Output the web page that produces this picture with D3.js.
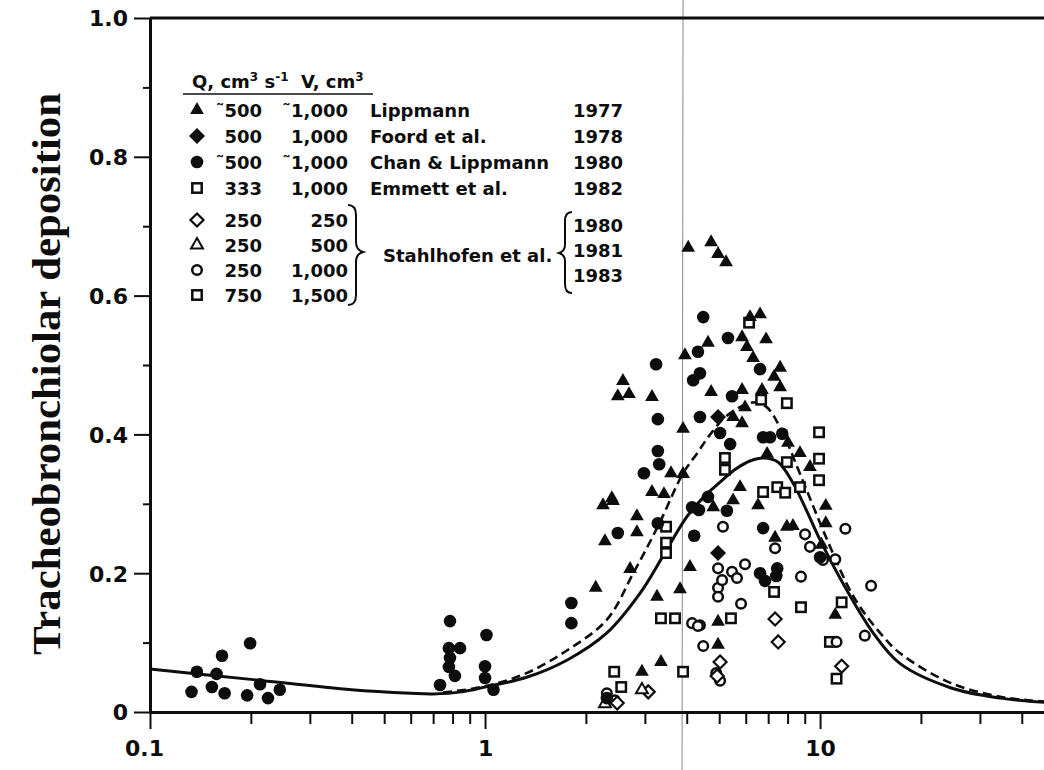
<!DOCTYPE html>
<html>
<head>
<meta charset="utf-8">
<script src="https://cdn.jsdelivr.net/npm/d3@7"></script>
<style>
  html, body { margin: 0; padding: 0; background: #fff; }
  svg { display: block; }
</style>
</head>
<body>
<svg id="chart" width="1044" height="770"></svg>
<script>
// ---------------- DATA ----------------
const xDomain = [0.1, 46.6];
const yDomain = [0, 1];
const xMajorTicks = [0.1, 1, 10];
const xTickLabels = ["0.1", "1", "10"];
const xMinorTicks = [0.2,0.3,0.4,0.5,0.6,0.7,0.8,0.9,2,3,4,5,6,7,8,9,20,30,40];
const yMajorTicks = [0, 0.2, 0.4, 0.6, 0.8, 1.0];
const yTickLabels = ["0", "0.2", "0.4", "0.6", "0.8", "1.0"];
const yMinorTicks = [0.1, 0.3, 0.5, 0.7, 0.9];
const yTitle = "Tracheobronchiolar deposition";
const artifactLineX = 3.9;

// solid model curve
const solidCurve = [
  [0.1,0.062],[0.2,0.047],[0.4,0.032],[0.6,0.027],[0.7,0.026],[0.85,0.029],[1.0,0.036],
  [1.33,0.05],[1.76,0.075],[2.31,0.114],[2.9,0.171],[3.4,0.225],[4.0,0.281],
  [4.5,0.31],[5.0,0.33],[5.6,0.35],[6.2,0.362],[6.8,0.366],[7.5,0.36],[8.3,0.33],
  [9.1,0.291],[10,0.248],[12,0.176],[14.4,0.114],[17.3,0.07],[24.5,0.035],[34.5,0.02],[46.6,0.014]
];
// dashed model curve
const dashedCurve = [
  [0.75,0.028],[1.0,0.037],[1.33,0.056],[1.76,0.089],[2.31,0.133],[2.77,0.2],[3.3,0.27],
  [3.9,0.344],[4.3,0.373],[4.7,0.40],[5.3,0.428],[6.3,0.446],[6.9,0.44],[7.6,0.41],[8.7,0.344],
  [10.5,0.248],[12.6,0.166],[15.1,0.114],[17.3,0.085],[24.5,0.042],[34.5,0.022],[46.6,0.015]
];

// Lippmann 1977 (filled triangles)
const lippmann = [
  [4.04,0.669],[4.73,0.677],[4.96,0.660],[5.24,0.648],[4.63,0.532],[3.95,0.514],[2.58,0.477],
  [2.49,0.455],[2.69,0.458],[3.15,0.454],[4.73,0.461],[3.90,0.408],[3.59,0.344],[3.90,0.343],
  [3.15,0.317],[3.42,0.314],[2.39,0.308],[6.18,0.569],[6.62,0.573],[5.85,0.540],[6.90,0.537],
  [6.05,0.526],[6.31,0.510],[7.60,0.496],[7.29,0.483],[7.60,0.468],[5.85,0.464],[6.71,0.464],
  [5.97,0.439],[5.50,0.425],[5.85,0.416],[8.02,0.388],[8.71,0.373],[9.33,0.353],[6.95,0.372],
  [5.77,0.324],[2.25,0.298],[2.41,0.304],[2.84,0.282],[2.84,0.259],[2.28,0.246],[2.14,0.179],
  [2.71,0.206],[3.26,0.166],[3.82,0.177],[4.09,0.209],[3.35,0.072],[2.94,0.058],[10.4,0.297],
  [10.4,0.272],[7.96,0.267],[8.30,0.268],[7.34,0.251],[6.53,0.298],[10.1,0.241],[11.1,0.140],
  [4.96,0.130],[4.96,0.097],[4.80,0.295],[5.50,0.305]
];
// Foord et al. 1978 (filled diamonds)
const foord = [[4.96,0.425],[4.96,0.229]];
// Chan & Lippmann 1980 (filled circles)
const chanLippmann = [
  [0.138,0.058],[0.133,0.029],[0.158,0.055],[0.153,0.036],[0.164,0.081],[0.167,0.027],
  [0.195,0.024],[0.199,0.099],[0.213,0.040],[0.225,0.020],[0.244,0.032],
  [0.734,0.039],[0.786,0.131],[0.78,0.092],[0.842,0.092],[0.786,0.078],[0.78,0.065],
  [0.813,0.052],[1.01,0.111],[1.0,0.066],[1.0,0.049],[1.06,0.032],
  [4.48,0.569],[3.24,0.501],[4.32,0.519],[4.38,0.488],[4.18,0.478],[3.28,0.422],[4.38,0.425],
  [3.28,0.376],[3.31,0.357],[2.98,0.344],[5.31,0.539],[5.46,0.455],[6.62,0.494],[6.76,0.396],
  [7.09,0.396],[7.71,0.401],[5.03,0.402],[5.39,0.386],[5.27,0.290],[6.76,0.265],[6.62,0.200],
  [7.45,0.207],[6.85,0.189],[10.0,0.223],[7.40,0.196],[2.49,0.258],[1.81,0.157],[1.81,0.128],
  [3.28,0.272],[4.21,0.254],[4.15,0.295],[4.35,0.291],[4.63,0.310],[2.31,0.020]
];
// Emmett et al. 1982 (open squares)
const emmett = [
  [3.47,0.267],[3.47,0.244],[3.47,0.229],[3.35,0.135],[3.69,0.135],[3.90,0.058],[2.43,0.058],[2.55,0.036]
];
// Stahlhofen et al. Q=250 V=250 (open diamonds)
const stahl250_250 = [[7.34,0.134],[7.50,0.101],[5.03,0.072],[4.93,0.052],[11.6,0.066],[3.07,0.029],[2.48,0.013]];
// Stahlhofen et al. Q=250 V=500 (open triangles)
const stahl250_500 = [[2.94,0.032],[2.28,0.012]];
// Stahlhofen et al. Q=250 V=1000 (open circles)
const stahl250_1000 = [
  [5.13,0.267],[9.02,0.256],[9.33,0.238],[11.9,0.264],[10.2,0.219],[11.1,0.220],[4.96,0.207],
  [5.46,0.202],[5.97,0.213],[4.96,0.179],[5.10,0.190],[5.65,0.193],[4.96,0.166],[5.81,0.156],
  [8.77,0.195],[14.2,0.182],[13.6,0.110],[11.2,0.101],[4.38,0.125],[4.48,0.095],[4.90,0.056],
  [5.03,0.045],[7.34,0.236],[4.15,0.128],[4.32,0.124],[2.31,0.027],[2.44,0.017]
];
// Stahlhofen et al. Q=750 V=1500 (open squares)
const stahl750_1500 = [
  [6.14,0.561],[6.67,0.450],[7.96,0.445],[9.93,0.403],[9.93,0.365],[9.93,0.334],[7.96,0.360],
  [5.20,0.366],[5.20,0.349],[6.76,0.317],[7.45,0.324],[7.87,0.316],[8.71,0.324],[7.29,0.173],
  [8.77,0.151],[11.6,0.158],[5.42,0.135],[10.7,0.101],[11.2,0.048]
];

// legend rows
const legendHeader = ["Q, cm", "3", " s", "-1", "  V, cm", "3"];
const legendRows = [
  {sym:"triF", q:"500", qt:true, v:"1,000", vt:true, name:"Lippmann", year:"1977"},
  {sym:"diaF", q:"500", qt:false, v:"1,000", vt:false, name:"Foord et al.", year:"1978"},
  {sym:"cirF", q:"500", qt:true, v:"1,000", vt:true, name:"Chan & Lippmann", year:"1980"},
  {sym:"sqO", q:"333", qt:false, v:"1,000", vt:false, name:"Emmett et al.", year:"1982"},
  {sym:"diaO", q:"250", qt:false, v:"250", vt:false, name:"", year:""},
  {sym:"triO", q:"250", qt:false, v:"500", vt:false, name:"", year:""},
  {sym:"cirO", q:"250", qt:false, v:"1,000", vt:false, name:"", year:""},
  {sym:"sqO", q:"750", qt:false, v:"1,500", vt:false, name:"", year:""}
];
const stahlName = "Stahlhofen et al.";
const stahlYears = ["1980", "1981", "1983"];

// ---------------- CHART ----------------
const svg = d3.select("#chart");
const x = d3.scaleLog().domain(xDomain).range([150, 1044]);
const y = d3.scaleLinear().domain(yDomain).range([712, 18]);
const ink = "#0d0d0d";
const sansFont = "'DejaVu Sans', sans-serif";

// artifact line (scan fold)
svg.append("line")
  .attr("x1", x(artifactLineX)).attr("x2", x(artifactLineX) - 1)
  .attr("y1", 0).attr("y2", 770)
  .attr("stroke", "#8a8a8a").attr("stroke-width", 1);

// top frame line
svg.append("line")
  .attr("x1", x(xDomain[0])).attr("x2", x(xDomain[1]))
  .attr("y1", y(1)).attr("y2", y(1))
  .attr("stroke", ink).attr("stroke-width", 3);

// axes
function styleAxis(g, w) {
  g.select(".domain").attr("stroke", ink).attr("stroke-width", w);
  g.selectAll(".tick line").attr("stroke", ink).attr("stroke-width", 2);
  g.selectAll(".tick text").attr("fill", ink)
    .style("font-family", sansFont).style("font-weight", "bold").style("font-size", "22px");
}
const gxMinor = svg.append("g").attr("transform", "translate(0,712)")
  .call(d3.axisBottom(x).tickValues(xMinorTicks).tickSize(12).tickSizeOuter(0).tickFormat(""));
styleAxis(gxMinor, 0);
gxMinor.select(".domain").remove();
const gx = svg.append("g").attr("transform", "translate(0,712)")
  .call(d3.axisBottom(x).tickValues(xMajorTicks).tickSize(17).tickSizeOuter(0).tickPadding(11)
    .tickFormat((d, i) => xTickLabels[i]));
styleAxis(gx, 3);
gx.selectAll(".tick text").attr("dx", (d, i) => i === 0 ? -6 : 0);

const gyMinor = svg.append("g").attr("transform", "translate(150,0)")
  .call(d3.axisLeft(y).tickValues(yMinorTicks).tickSize(7).tickSizeOuter(0).tickFormat(""));
styleAxis(gyMinor, 0);
gyMinor.select(".domain").remove();
const gy = svg.append("g").attr("transform", "translate(150,0)")
  .call(d3.axisLeft(y).tickValues(yMajorTicks).tickSize(16).tickSizeOuter(0).tickPadding(6)
    .tickFormat((d, i) => yTickLabels[i]));
styleAxis(gy, 3);
gy.selectAll(".tick text").attr("dy", "0.36em");

// y title
svg.append("text")
  .attr("transform", "translate(60,374) rotate(-90)")
  .attr("text-anchor", "middle")
  .attr("textLength", 562).attr("lengthAdjust", "spacingAndGlyphs")
  .style("font-family", "'Liberation Serif', 'Times New Roman', serif")
  .style("font-weight", "bold").style("font-size", "40px")
  .attr("fill", ink)
  .text(yTitle);

// curves
const line = d3.line().x(d => x(d[0])).y(d => y(d[1])).curve(d3.curveCatmullRom.alpha(0.5));
svg.append("path").datum(solidCurve).attr("d", line)
  .attr("fill", "none").attr("stroke", ink).attr("stroke-width", 3);
svg.append("path").datum(dashedCurve).attr("d", line)
  .attr("fill", "none").attr("stroke", ink).attr("stroke-width", 2.6)
  .attr("stroke-dasharray", "9,5");

// marker drawing
function marker(g, type, cx, cy) {
  switch (type) {
    case "triF":
      g.append("path").attr("d", d3.symbol(d3.symbolTriangle, 82)())
        .attr("transform", `translate(${cx},${cy})`).attr("fill", ink);
      break;
    case "triO":
      g.append("path").attr("d", d3.symbol(d3.symbolTriangle, 62)())
        .attr("transform", `translate(${cx},${cy})`).attr("fill", "#fff")
        .attr("stroke", ink).attr("stroke-width", 2);
      break;
    case "cirF":
      g.append("circle").attr("cx", cx).attr("cy", cy).attr("r", 6.3).attr("fill", ink);
      break;
    case "cirO":
      g.append("circle").attr("cx", cx).attr("cy", cy).attr("r", 4.8)
        .attr("fill", "#fff").attr("stroke", ink).attr("stroke-width", 2.5);
      break;
    case "sqO":
      g.append("rect").attr("x", cx - 4.7).attr("y", cy - 4.7).attr("width", 9.4).attr("height", 9.4)
        .attr("fill", "#fff").attr("stroke", ink).attr("stroke-width", 2.5);
      break;
    case "diaF":
      g.append("path").attr("d", "M0,-8L8,0L0,8L-8,0Z")
        .attr("transform", `translate(${cx},${cy})`).attr("fill", ink);
      break;
    case "diaO":
      g.append("path").attr("d", "M0,-6.5L6.5,0L0,6.5L-6.5,0Z")
        .attr("transform", `translate(${cx},${cy})`).attr("fill", "#fff")
        .attr("stroke", ink).attr("stroke-width", 2.2);
      break;
  }
}

const series = [
  [emmett, "sqO"], [stahl750_1500, "sqO"], [stahl250_1000, "cirO"], [stahl250_250, "diaO"],
  [stahl250_500, "triO"], [chanLippmann, "cirF"], [lippmann, "triF"], [foord, "diaF"]
];
const gPts = svg.append("g");
series.forEach(([data, type]) => {
  data.forEach(d => marker(gPts, type, x(d[0]), y(d[1])));
});

// legend
const gl = svg.append("g").style("font-family", sansFont).style("font-weight", "bold")
  .style("font-size", "18px").attr("fill", ink);
const hdr = gl.append("text").attr("x", 192).attr("y", 88).style("white-space", "pre");
legendHeader.forEach((t, i) => {
  const sup = (i % 2 === 1);
  hdr.append("tspan").text(t)
    .attr("font-size", sup ? "12px" : "18px")
    .attr("dy", sup ? -7 : (i === 0 ? 0 : 7));
});
gl.append("line").attr("x1", 183).attr("x2", 373).attr("y1", 94).attr("y2", 94)
  .attr("stroke", ink).attr("stroke-width", 1.6);

const rowY = [110, 136, 162, 188, 220, 245, 270, 295];
legendRows.forEach((r, i) => {
  const cy = rowY[i];
  marker(gl, r.sym, 197, cy);
  const tq = gl.append("text").attr("x", 262).attr("y", cy + 7).attr("text-anchor", "end");
  if (r.qt) tq.append("tspan").text("\u02DC");
  tq.append("tspan").text(r.q);
  const tv = gl.append("text").attr("x", 348).attr("y", cy + 7).attr("text-anchor", "end");
  if (r.vt) tv.append("tspan").text("\u02DC");
  tv.append("tspan").text(r.v);
  if (r.name) gl.append("text").attr("x", 370).attr("y", cy + 7).text(r.name);
  if (r.year) gl.append("text").attr("x", 623).attr("y", cy + 7).attr("text-anchor", "end").text(r.year);
});
// braces
gl.append("path")
  .attr("d", "M348,205 Q356,205 356,215 L356,242 Q356,250 363,252 Q356,254 356,262 L356,295 Q356,305 348,305")
  .attr("fill", "none").attr("stroke", ink).attr("stroke-width", 2);
gl.append("path")
  .attr("d", "M572,212 Q565,212 565,221 L565,245 Q565,251 559,253 Q565,255 565,261 L565,284 Q565,293 572,293")
  .attr("fill", "none").attr("stroke", ink).attr("stroke-width", 2);
gl.append("text").attr("x", 383).attr("y", 262).text(stahlName);
stahlYears.forEach((yr, i) => {
  gl.append("text").attr("x", 623).attr("y", 232 + i * 25).attr("text-anchor", "end").text(yr);
});
</script>
</body>
</html>
